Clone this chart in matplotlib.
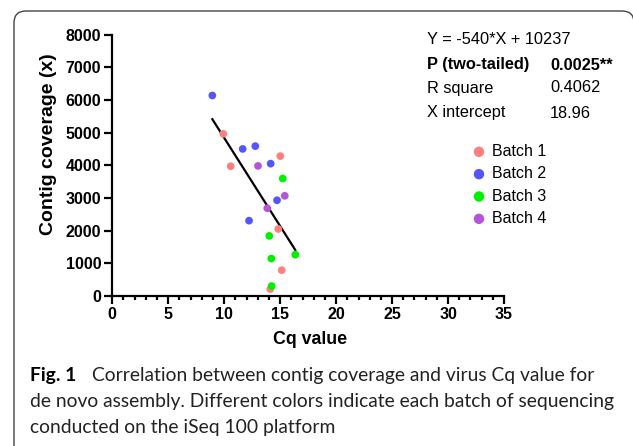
import numpy as np
import matplotlib
matplotlib.use("Agg")
import matplotlib.pyplot as plt
from matplotlib.patches import FancyBboxPatch
from matplotlib.transforms import IdentityTransform

# Cq value vs contig coverage
batch1_cq = [9.92, 10.58, 15.01, 14.83, 15.14, 14.12]
batch1_cov = [4960, 3970, 4280, 2050, 790, 210]
batch2_cq = [8.94, 11.65, 12.78, 14.15, 14.72, 12.22]
batch2_cov = [6135, 4500, 4585, 4050, 2930, 2305]
batch3_cq = [15.23, 14.03, 16.35, 14.21, 14.24]
batch3_cov = [3595, 1840, 1265, 1145, 305]
batch4_cq = [13.02, 15.41, 13.85]
batch4_cov = [3980, 3065, 2685]

batch_names = ["Batch 1", "Batch 2", "Batch 3", "Batch 4"]
batch_colors = ["#FF7F7F", "#5555FF", "#00F000", "#B455D8"]

slope = -540
intercept = 10237
stat_labels = ["P (two-tailed)", "R square", "X intercept"]
stat_values = ["0.0025**", "0.4062", "18.96"]

plt.rcParams['font.family'] = ['Liberation Sans', 'DejaVu Sans']

fig = plt.figure(figsize=(6.33, 4.46), dpi=100)
ax = fig.add_axes([0.1774, 0.3363, 0.6188, 0.5863])

xs = [batch1_cq, batch2_cq, batch3_cq, batch4_cq]
ys = [batch1_cov, batch2_cov, batch3_cov, batch4_cov]
for x, y, c, n in zip(xs, ys, batch_colors, batch_names):
    ax.scatter(x, y, s=31, color=c, edgecolors='none', label=n, zorder=3)

# regression line over the data range
all_x = np.concatenate([np.array(v) for v in xs])
line_x = np.array([all_x.min(), all_x.max()])
ax.plot(line_x, slope * line_x + intercept, color='black', lw=1.6, zorder=2)

ax.set_xlim(0, 35)
ax.set_ylim(0, 8000)
ax.set_xticks(np.arange(0, 36, 5))
ax.set_xticks(np.arange(0, 36, 1), minor=True)
ax.set_yticks(np.arange(0, 8001, 1000))
for s in ['top', 'right']:
    ax.spines[s].set_visible(False)
for s in ['left', 'bottom']:
    ax.spines[s].set_linewidth(1.6)
ax.tick_params(axis='both', which='major', length=5.5, width=1.6, labelsize=11.5, pad=2.5)
ax.tick_params(axis='x', which='minor', length=3, width=1.6)
for lab in ax.get_xticklabels() + ax.get_yticklabels():
    lab.set_fontweight('bold')
ax.set_xlabel("Cq value", fontsize=12.8, fontweight='bold', va='center')
ax.xaxis.set_label_coords(0.505, -0.168)
ax.set_ylabel("Contig coverage (x)", fontsize=14, fontweight='bold', va='center')
ax.yaxis.set_label_coords(-0.164, 0.581)

# stats text
fig.text(427 / 633, 1 - 40 / 446, "Y = -540*X + 10237", fontsize=11.8, va='center')
stat_y = [65, 88, 113]
for lab, val, yy in zip(stat_labels, stat_values, stat_y):
    w = 'bold' if lab.startswith("P") else 'normal'
    fig.text(427 / 633, 1 - yy / 446, lab, fontsize=11.8, va='center', fontweight=w)
    fig.text(550 / 633, 1 - yy / 446, val, fontsize=11.8, va='center', fontweight=w)

leg = ax.legend(loc='upper left', bbox_to_anchor=(471 / 633, 1 - 144 / 446),
                bbox_transform=fig.transFigure, frameon=False, fontsize=11.5,
                handletextpad=0.3, labelspacing=0.46, borderaxespad=0, borderpad=0,
                scatterpoints=1, handlelength=1.0, markerscale=1.35)

# caption
cap_font = ['Lato', 'DejaVu Sans']
cap_size = 13.9
fig.text(30 / 633, 1 - 376 / 446, "Fig. 1", fontsize=cap_size, fontweight='bold',
         family=cap_font, va='center')
fig.text(92 / 633, 1 - 376 / 446,
         "Correlation between contig coverage and virus Cq value for",
         fontsize=cap_size, family=cap_font, va='center', color='#222222')
fig.text(30 / 633, 1 - 402 / 446,
         "de novo assembly. Different colors indicate each batch of sequencing",
         fontsize=cap_size, family=cap_font, va='center', color='#222222')
fig.text(30 / 633, 1 - 428 / 446, "conducted on the iSeq 100 platform",
         fontsize=cap_size, family=cap_font, va='center', color='#222222')

# rounded frame around figure
frame = FancyBboxPatch((14, -30), 620, 446 - 11 + 30,
                       boxstyle="round,pad=0,rounding_size=12",
                       transform=IdentityTransform(), fill=False,
                       edgecolor='#444444', lw=1.0)
fig.patches.append(frame)

fig.savefig("out.png", dpi=100)
